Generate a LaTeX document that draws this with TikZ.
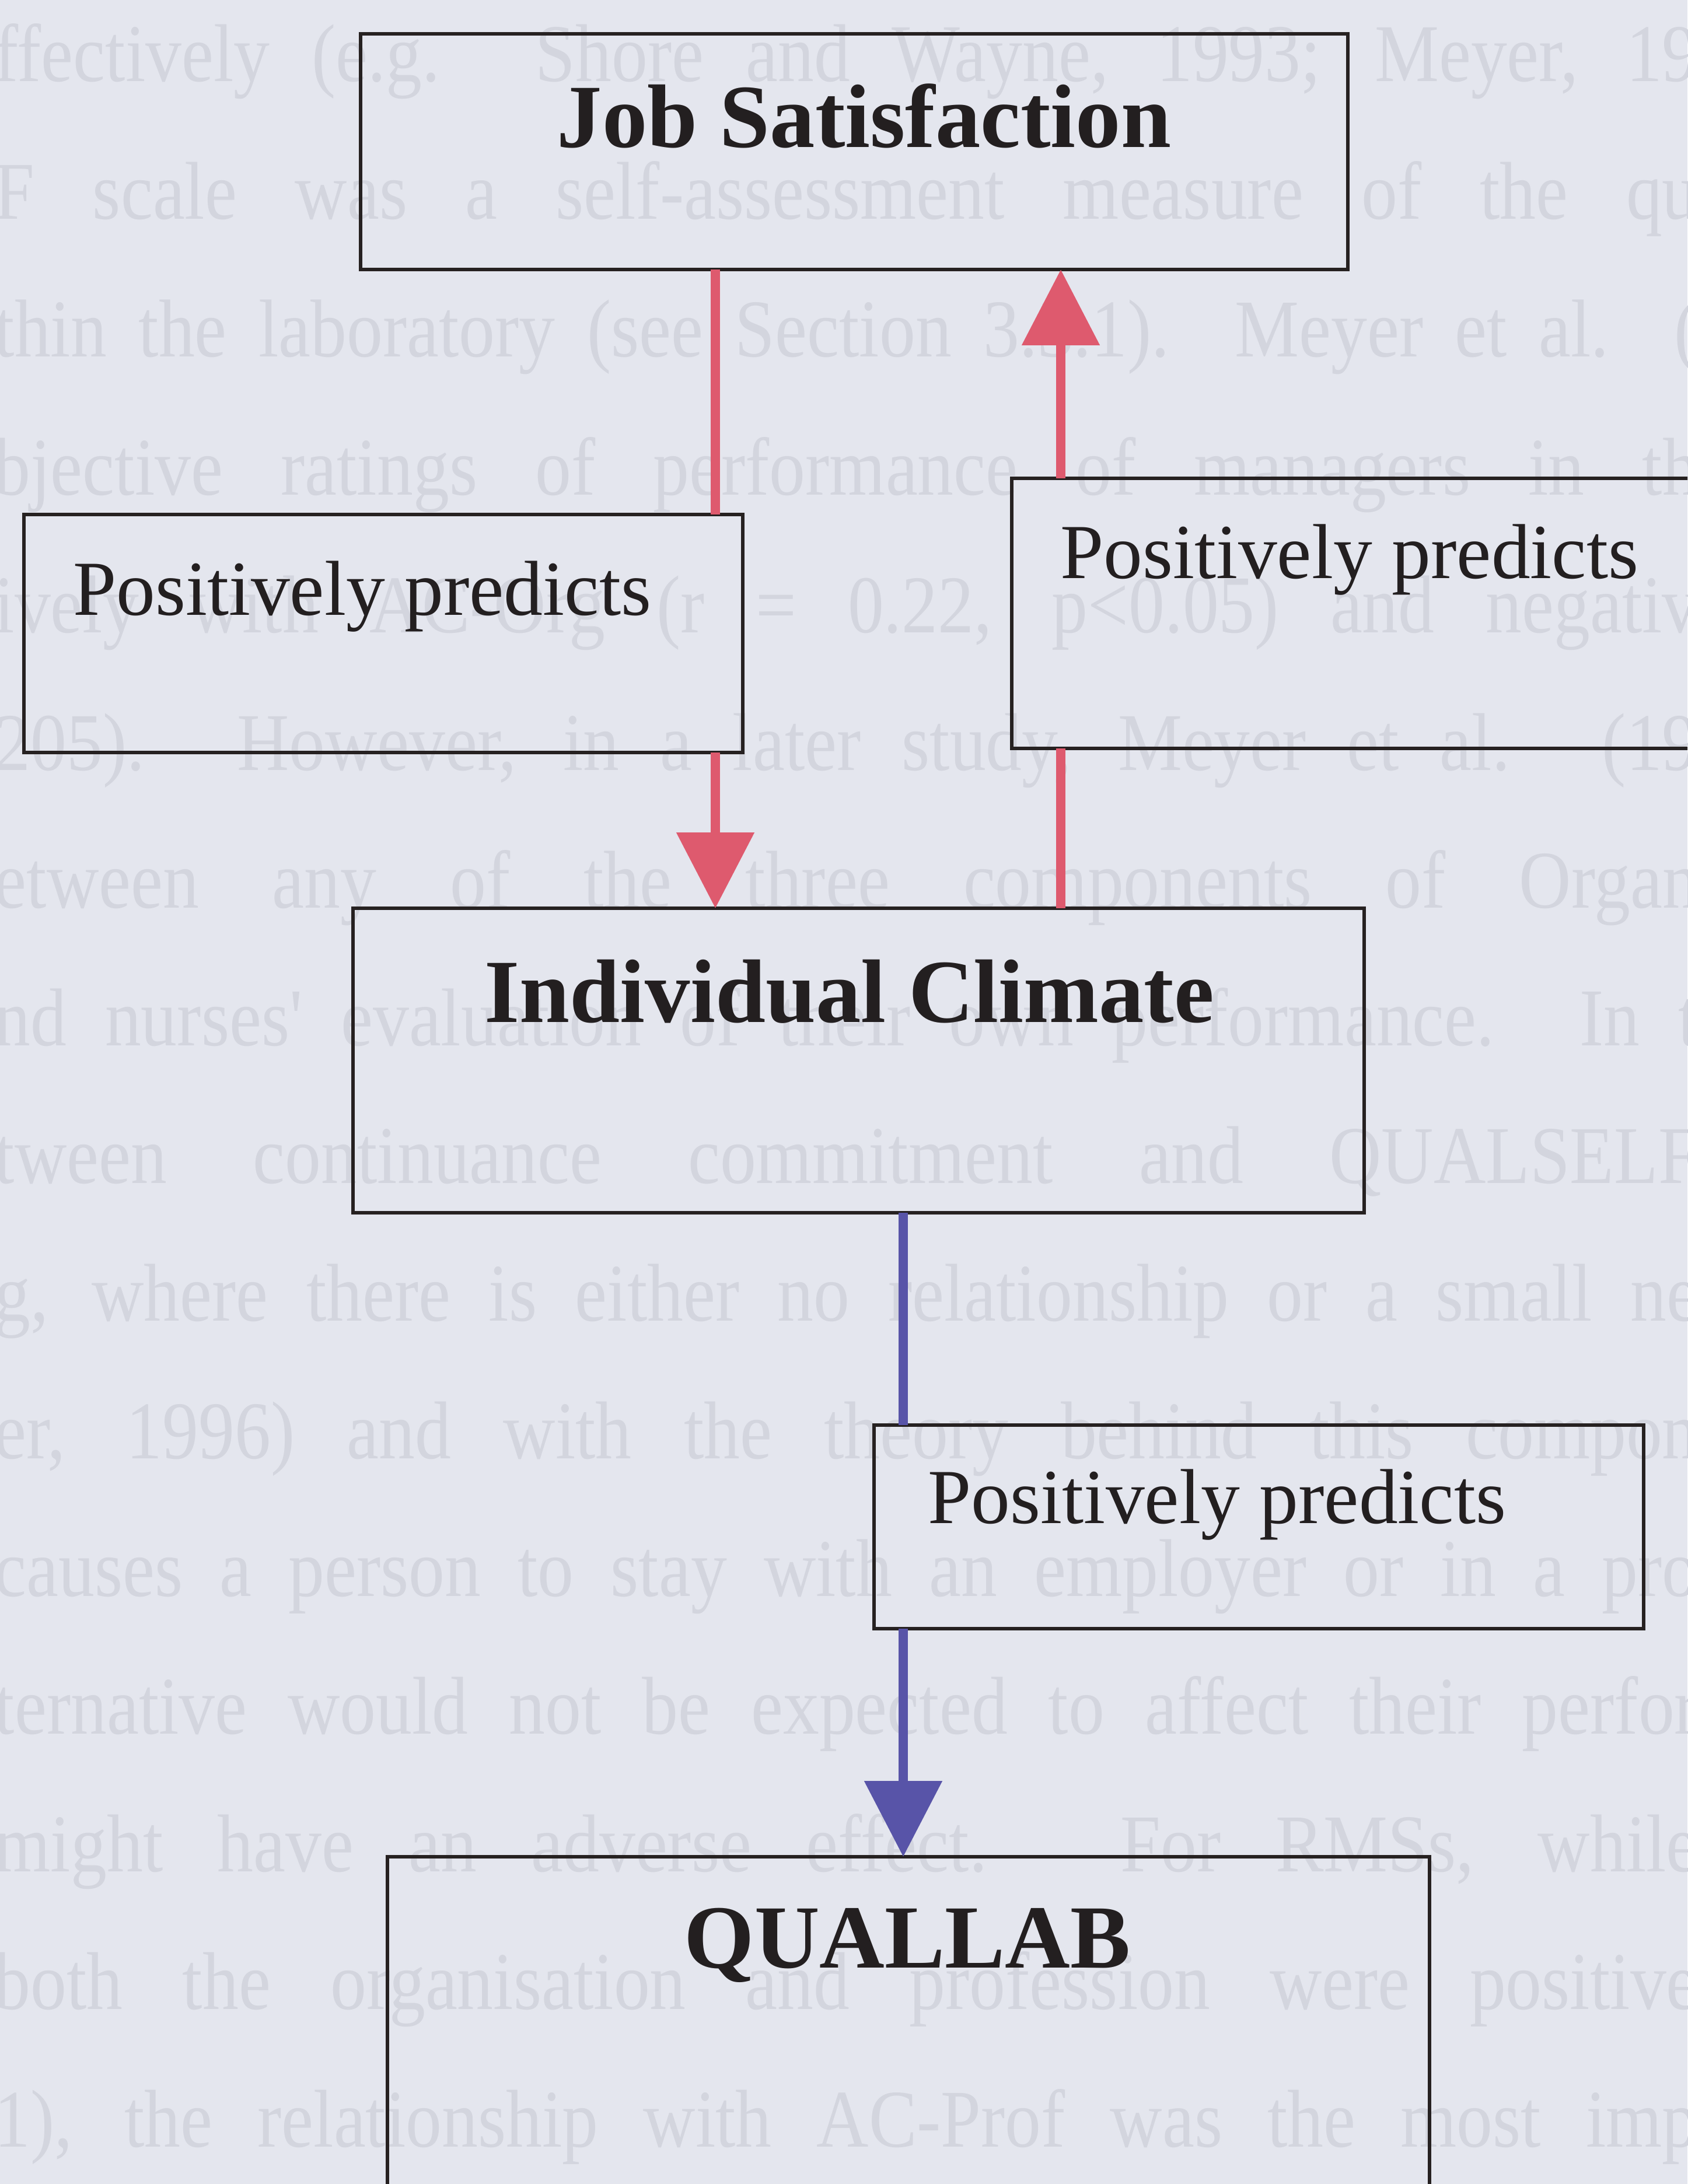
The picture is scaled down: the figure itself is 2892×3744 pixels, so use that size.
\documentclass[tikz,border=0pt]{standalone}
\usepackage{fontspec}
\setmainfont{Liberation Serif}
\newfontfamily\ghostfont[FakeStretch=0.88]{Liberation Serif}
\usetikzlibrary{arrows.meta}
\definecolor{bgc}{RGB}{228,230,238}
\definecolor{ghost}{RGB}{211,213,222}
\definecolor{redc}{RGB}{222,90,110}
\definecolor{bluec}{RGB}{88,84,168}
\definecolor{edgec}{RGB}{38,33,33}
\definecolor{inkc}{RGB}{35,31,32}
\begin{document}
\begin{tikzpicture}[x=0.1mm,y=-0.1mm,
  boxst/.style={draw=edgec, line width=0.65mm, inner sep=0pt, outer sep=0pt, anchor=north west},
  bigt/.style={font=\fontsize{44}{50}\selectfont\bfseries, text=inkc, inner sep=0pt, anchor=base west},
  lblt/.style={font=\fontsize{38}{44}\selectfont, text=inkc, inner sep=0pt, anchor=base west},
  ghostt/.style={font=\ghostfont\fontsize{40}{46}\selectfont, text=ghost, inner sep=0pt, anchor=base west},
  redarr/.style={draw=redc, line width=1.6mm},
  bluearr/.style={draw=bluec, line width=1.6mm},
  redtip/.style={-{Triangle[width=13mm,length=13mm,fill=redc]}},
  bluetip/.style={-{Triangle[width=13mm,length=13mm,fill=bluec]}}
]
\useasboundingbox (0,0) rectangle (2892,3744);
\clip (0,0) rectangle (2892,3744);
\fill[bgc] (0,0) rectangle (2892,3744);

% faint page text seen through the sheet
\node[ghostt] (g1)  at (-10,140)  {\makebox[292mm][s]{ffectively (e.g. Shore and Wayne, 1993; Meyer, 19}};
\node[ghostt] (g2)  at (-10,376)  {\makebox[292mm][s]{F scale was a self-assessment measure of the qu}};
\node[ghostt] (g3)  at (-10,612)  {\makebox[292mm][s]{thin the laboratory (see Section 3.3.1). Meyer et al. (}};
\node[ghostt] (g4)  at (-10,848)  {\makebox[292mm][s]{bjective ratings of performance of managers in th}};
\node[ghostt] (g5)  at (-10,1084) {\makebox[292mm][s]{ively with AC-Org (r = 0.22, p<0.05) and negativ}};
\node[ghostt] (g6)  at (-10,1320) {\makebox[292mm][s]{205). However, in a later study, Meyer et al. (19}};
\node[ghostt] (g7)  at (-10,1556) {\makebox[292mm][s]{etween any of the three components of Organ}};
\node[ghostt] (g8)  at (-10,1792) {\makebox[292mm][s]{nd nurses' evaluation of their own performance. In t}};
\node[ghostt] (g9)  at (-10,2028) {\makebox[292mm][s]{tween continuance commitment and QUALSELF}};
\node[ghostt] (g10) at (-10,2264) {\makebox[292mm][s]{g, where there is either no relationship or a small ne}};
\node[ghostt] (g11) at (-10,2500) {\makebox[292mm][s]{er, 1996) and with the theory behind this compon}};
\node[ghostt] (g12) at (-10,2736) {\makebox[292mm][s]{causes a person to stay with an employer or in a pro}};
\node[ghostt] (g13) at (-10,2972) {\makebox[292mm][s]{ternative would not be expected to affect their perfor}};
\node[ghostt] (g14) at (-10,3208) {\makebox[292mm][s]{might have an adverse effect. For RMSs, while}};
\node[ghostt] (g15) at (-10,3444) {\makebox[292mm][s]{both the organisation and profession were positive}};
\node[ghostt] (g16) at (-10,3680) {\makebox[292mm][s]{1), the relationship with AC-Prof was the most imp}};

% boxes
\node[boxst, minimum width=169.2mm, minimum height=40.4mm] (js) at (618,58) {};
\node[boxst, minimum width=123.2mm, minimum height=40.8mm] (lp) at (41,882) {};
\node[boxst, minimum width=125.0mm, minimum height=46.3mm] (rp) at (1734,820) {};
\node[boxst, minimum width=173.3mm, minimum height=52.2mm] (ic) at (605,1557) {};
\node[boxst, minimum width=131.9mm, minimum height=34.9mm] (bp) at (1498,2443) {};
\node[boxst, minimum width=178.6mm, minimum height=70.0mm] (ql) at (664,3183) {};

% texts
\node[bigt] (jst) at (954,253)  {Job Satisfaction};
\node[lblt] (lpt) at (125,1054) {Positively predicts};
\node[lblt] (rpt) at (1817,991) {Positively predicts};
\node[bigt] (ict) at (830,1752) {Individual Climate};
\node[lblt] (bpt) at (1590,2611) {Positively predicts};
\node[bigt] (qlt) at (1172,3373) {QUALLAB};

% connector columns
\coordinate (xa) at (1226,0);
\coordinate (xb) at (1818,0);
\coordinate (xc) at (1548,0);

% Job Satisfaction -> Individual Climate
\draw[redarr] (xa |- js.south) -- (xa |- lp.north);
\draw[redarr, redtip] (xa |- lp.south) -- (xa |- ic.north);
% Individual Climate -> Job Satisfaction
\draw[redarr] (xb |- ic.north) -- (xb |- rp.south);
\draw[redarr, redtip] (xb |- rp.north) -- (xb |- js.south);
% Individual Climate -> QUALLAB
\draw[bluearr] (xc |- ic.south) -- (xc |- bp.north);
\draw[bluearr, bluetip] (xc |- bp.south) -- (xc |- ql.north);
\end{tikzpicture}
\end{document}
